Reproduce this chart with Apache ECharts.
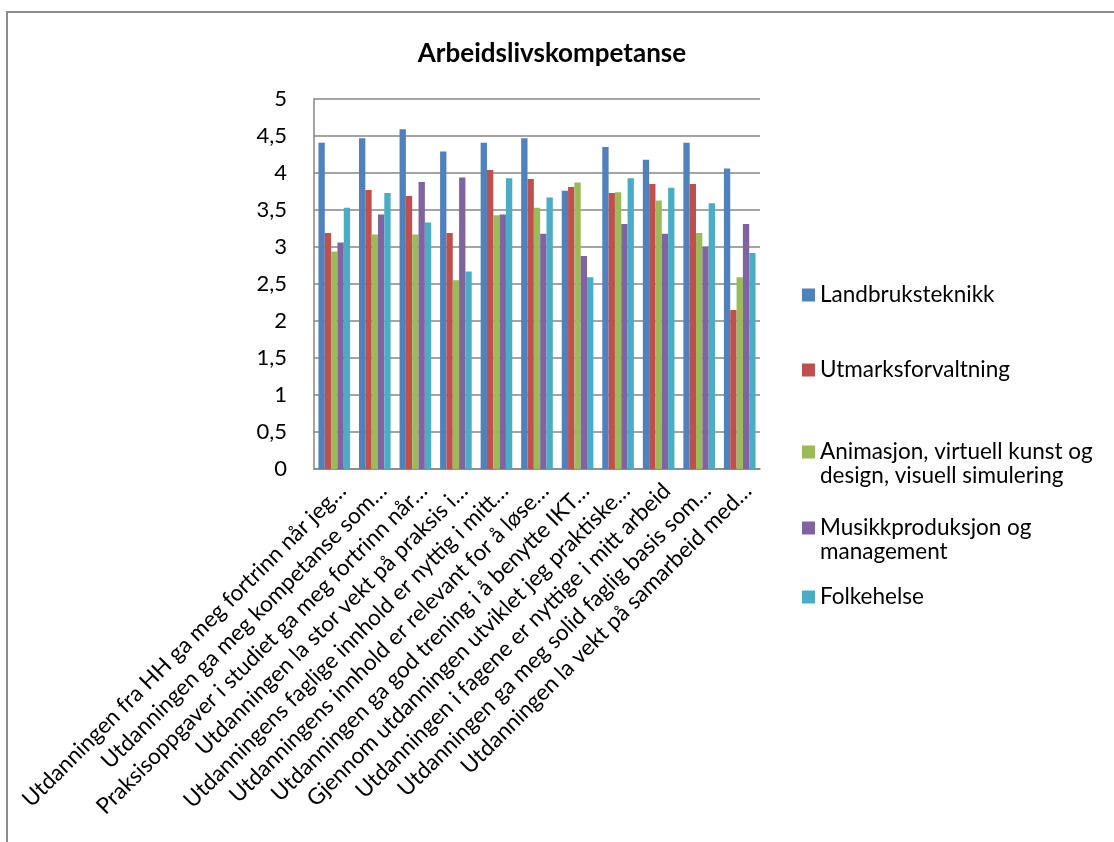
<!DOCTYPE html>
<html>
<head>
<meta charset="utf-8">
<script src="https://cdn.jsdelivr.net/npm/echarts@6/dist/echarts.min.js"></script>
<style>
  html, body { margin: 0; padding: 0; background: #fff; }
  #chart { width: 1114px; height: 842px; }
</style>
</head>
<body>
<div id="chart"></div>
<script>
  // kategorier (utsagn) langs x-aksen
  const categories = [
    'Utdanningen fra HH ga meg fortrinn når jeg…',
    'Utdanningen ga meg kompetanse som…',
    'Praksisoppgaver i studiet ga meg fortrinn når…',
    'Utdanningen la stor vekt på praksis i…',
    'Utdanningens faglige innhold er nyttig i mitt…',
    'Utdanningens innhold er relevant for å løse…',
    'Utdanningen ga god trening i å benytte IKT…',
    'Gjennom utdanningen utviklet jeg praktiske…',
    'Utdanningen i fagene er nyttige i mitt arbeid',
    'Utdanningen ga meg solid faglig basis som…',
    'Utdanningen la vekt på samarbeid med…'
  ]
  const seriesNames = [
    'Landbruksteknikk',
    'Utmarksforvaltning',
    'Animasjon, virtuell kunst og design, visuell simulering',
    'Musikkproduksjon og management',
    'Folkehelse'
  ]
  // gjennomsnittsverdier per studieprogram
  const landbruk = [4.41, 4.47, 4.59, 4.29, 4.41, 4.47, 3.76, 4.35, 4.18, 4.41, 4.06]
  const utmark = [3.19, 3.77, 3.69, 3.19, 4.04, 3.92, 3.81, 3.73, 3.85, 3.85, 2.15]
  const animasjon = [2.94, 3.17, 3.17, 2.55, 3.43, 3.53, 3.87, 3.74, 3.63, 3.19, 2.59]
  const musikk = [3.06, 3.44, 3.88, 3.94, 3.44, 3.18, 2.88, 3.31, 3.18, 3.00, 3.31]
  const folkehelse = [3.53, 3.73, 3.33, 2.67, 3.93, 3.67, 2.59, 3.93, 3.80, 3.59, 2.92]
  const yTicks = ['0', '0,5', '1', '1,5', '2', '2,5', '3', '3,5', '4', '4,5', '5']

  const colors = ['#4F81BD', '#C0504D', '#9BBB59', '#8064A2', '#4BACC6']
  const allValues = [landbruk, utmark, animasjon, musikk, folkehelse]
  const font = 'Lato, "Open Sans", sans-serif'

  const chart = echarts.init(document.getElementById('chart'))

  // linjeskift i legenden slik som i originalen
  // (tom første linje gjør at markøren står ved første tekstlinje)
  const legendLabel = {
    'Animasjon, virtuell kunst og design, visuell simulering': '\nAnimasjon, virtuell kunst og\ndesign, visuell simulering',
    'Musikkproduksjon og management': '\nMusikkproduksjon og\nmanagement'
  }
  const legendTops = [283, 358, 416, 492, 585]
  const legends = seriesNames.map((name, i) => ({
    orient: 'vertical',
    left: 802,
    top: legendTops[i],
    padding: 0,
    itemWidth: 13,
    itemHeight: 13,
    itemGap: 0,
    icon: 'rect',
    data: [name],
    formatter: n => legendLabel[n] || n,
    textStyle: {
      fontFamily: font,
      fontSize: 22.5,
      color: '#000',
      lineHeight: 24
    },
    selectedMode: false
  }))

  const option = {
    backgroundColor: '#fff',
    animation: false,
    color: colors,
    title: {
      text: 'Arbeidslivskompetanse',
      left: 547,
      textAlign: 'center',
      top: 36,
      textStyle: {
        fontFamily: font,
        fontSize: 26,
        fontWeight: 'bold',
        color: '#000'
      }
    },
    legend: legends,
    grid: {
      left: 314,
      right: 354,
      top: 99,
      bottom: 373
    },
    xAxis: {
      type: 'category',
      data: categories,
      axisLine: { lineStyle: { color: '#868686', width: 1.5 } },
      axisTick: { show: false },
      axisLabel: {
        rotate: 45,
        interval: 0,
        margin: 10,
        fontFamily: font,
        fontSize: 22.5,
        color: '#000',
        verticalAlign: 'top'
      }
    },
    yAxis: {
      type: 'value',
      min: 0,
      max: 5,
      interval: 0.5,
      axisLine: { show: true, lineStyle: { color: '#868686', width: 1.5 } },
      axisTick: { show: false },
      splitLine: { lineStyle: { color: '#868686', width: 1.5 } },
      axisLabel: {
        margin: 27,
        fontFamily: font,
        fontSize: 22,
        color: '#000',
        formatter: v => yTicks[Math.round(v * 2)]
      }
    },
    series: seriesNames.map((name, i) => ({
      name: name,
      type: 'bar',
      data: allValues[i],
      barGap: '0%',
      barCategoryGap: '22%',
      itemStyle: { color: colors[i] }
    })),
    graphic: [
      {
        type: 'polyline',
        shape: { points: [[7, 842], [7, 12], [1114, 12]] },
        style: { stroke: '#8c8c8c', lineWidth: 2, fill: null },
        silent: true
      }
    ]
  }

  chart.setOption(option)
</script>
</body>
</html>
